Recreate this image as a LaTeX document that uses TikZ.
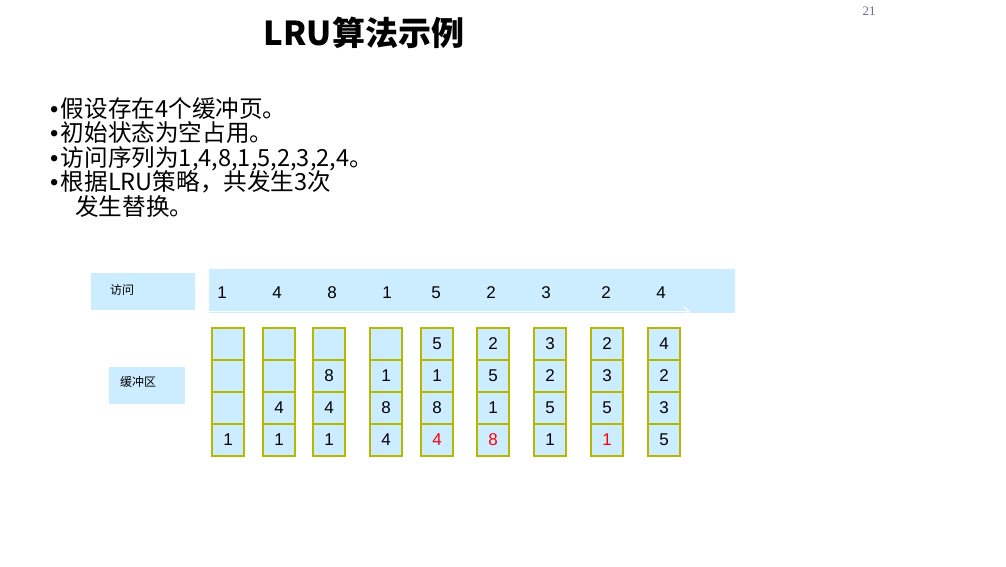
\documentclass[tikz,border=0pt]{standalone}
\usepackage{fontspec}
\setmainfont{Liberation Sans}
\newfontfamily\cjk{Noto Sans CJK SC}
\newfontfamily\serifnum{Liberation Serif}
\newfontfamily\bulfont{Liberation Sans}
\usetikzlibrary{arrows.meta}
\definecolor{lblue}{RGB}{204,236,255}
\definecolor{cellborder}{RGB}{184,184,0}
\definecolor{pagegray}{RGB}{110,110,150}
\newcommand{\bul}{{\bulfont•}\kern2.5pt}
\tikzset{
  cell/.style={draw=cellborder, fill=lblue, line width=2.4pt, minimum width=32pt, minimum height=32pt, inner sep=0pt, font=\fontsize{17}{17}\selectfont},
  accnum/.style={inner sep=0pt, font=\fontsize{17}{17}\selectfont},
  bullet/.style={anchor=base west, inner sep=0pt, font=\cjk\fontsize{23.6}{23.6}\selectfont},
  labbox/.style={fill=lblue, inner sep=0pt},
  labtext/.style={anchor=west, inner sep=0pt, font=\cjk\fontsize{12}{12}\selectfont},
}
\begin{document}
\begin{tikzpicture}[x=1pt,y=-1pt]
\useasboundingbox (0,0) rectangle (1006,566);
\fill[white] (0,0) rectangle (1006,566);

\node[font=\serifnum\fontsize{13}{13}\selectfont, text=pagegray, anchor=base, inner sep=0pt] (pg) at (869,15) {21};

\node[anchor=base, inner sep=0pt, font=\cjk\bfseries\fontsize{33}{33}\selectfont] (title) at (364,45) {LRU算法示例};

\node[bullet] (b1) at (50,117) {\bul 假设存在4个缓冲页。};
\node[bullet] (b2) at (50,141.5) {\bul 初始状态为空占用。};
\node[bullet] (b3) at (50,166) {\bul 访问序列为1,4,8,1,5,2,3,2,4。};
\node[bullet] (b4) at (50,190.5) {\bul 根据LRU策略，共发生3次};
\node[bullet] (b5) at (75,215) {发生替换。};

\node[labbox, minimum width=104pt, minimum height=37pt] (accbox) at (143,291.5) {};
\node[labtext] (acclab) at (110,290) {访问};
\node[labbox, minimum width=76pt, minimum height=37pt] (bufbox) at (147,385.5) {};
\node[labtext] (buflab) at (120,382) {缓冲区};

\node[fill=lblue, minimum width=526pt, minimum height=44pt, inner sep=0pt] (acc) at (472,291) {};
\coordinate (as) at (209,311.5);
\coordinate (ae) at (690,311.5);
\draw[white, line width=1.2pt, -{Straight Barb[length=5pt,width=9pt]}] (as) -- (ae);

\foreach \x/\n [count=\i] in {222/1,277/4,332/8,387/1,436/5,491/2,546/3,606/2,661/4}
  \node[accnum] (a\i) at (\x,293) {\n};

\foreach \x/\p/\q/\r/\s [count=\i] in {
  228/{}/{}/{}/1,
  279/{}/{}/4/1,
  329/{}/8/4/1,
  386/{}/1/8/4,
  437/5/1/8/{\textcolor{red}{4}},
  493/2/5/1/{\textcolor{red}{8}},
  550/3/2/5/1,
  607/2/3/5/{\textcolor{red}{1}},
  664/4/2/3/5}
{
  \node[cell] (c\i p) at (\x,344) {\p};
  \node[cell] (c\i q) at (\x,376) {\q};
  \node[cell] (c\i r) at (\x,408) {\r};
  \node[cell] (c\i s) at (\x,440) {\s};
}
\end{tikzpicture}
\end{document}
